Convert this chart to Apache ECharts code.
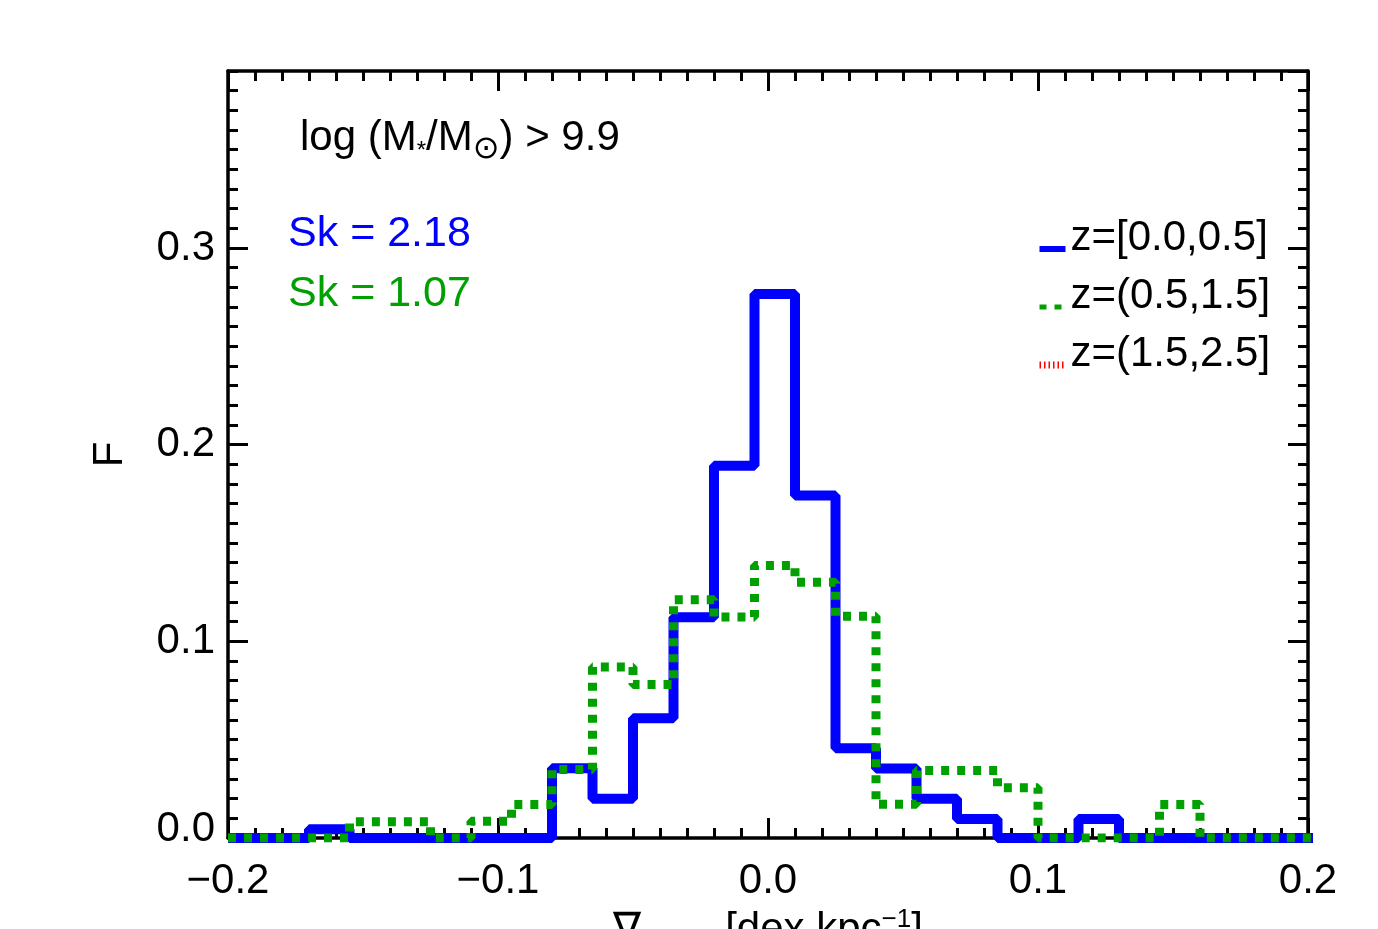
<!DOCTYPE html>
<html><head><meta charset="utf-8">
<script src="https://cdn.jsdelivr.net/npm/echarts@6/dist/echarts.min.js"></script>
<style>html,body{margin:0;padding:0;background:#fff}#c{width:1378px;height:929px}</style>
</head><body><div id="c"></div>
<script>
// ---- data ----
const binLeftEdges = [-0.2,-0.185,-0.17,-0.155,-0.14,-0.125,-0.11,-0.095,-0.08,-0.065,-0.05,-0.035,-0.02,-0.005,0.01,0.025,0.04,0.055,0.07,0.085,0.1,0.115,0.13,0.145,0.16,0.175,0.19];
const lastRightEdge = 0.205;
const fLowZ  = [0,0,0.0045,0,0,0,0,0,0.0355,0.0199,0.0609,0.1122,0.1893,0.2766,0.1741,0.0456,0.0354,0.0199,0.0097,0,0,0.0097,0,0,0,0,0];
const fMidZ  = [0,0,0,0.0082,0.0082,0,0.0085,0.0170,0.0348,0.0869,0.0781,0.1212,0.1124,0.1386,0.1300,0.1127,0.0171,0.0343,0.0343,0.0255,0,0,0,0.0170,0,0,0];
const fHighZ = [];
const seriesNames = ['z=[0.0,0.5]','z=(0.5,1.5]','z=(1.5,2.5]'];
const xMajorTicks = [-0.2,-0.1,0.0,0.1,0.2];
const yMajorTicks = [0.0,0.1,0.2,0.3];
const skLow = 'Sk = 2.18';
const skMid = 'Sk = 1.07';

const FONT = '"Liberation Sans", Arial, Helvetica, sans-serif';
const BLUE = '#0000ff', GREEN = '#00a000', RED = '#ff0000';

function stepData(vals){
  if(!vals.length) return [];
  const d = binLeftEdges.map((e,i)=>[e, vals[i]]);
  d.push([lastRightEdge, vals[vals.length-1]]);
  return d;
}
const fmt = v => v.toFixed(1).replace('-', '\u2212');

const axisLineStyle = {color:'#000', width:3.5};
function xAx(pos, minor, extra){
  return Object.assign({
    type:'value', position:pos, min:-0.2, max:0.2, interval: minor?0.01:0.1,
    axisLine:{show:!minor, onZero:false, lineStyle:axisLineStyle},
    axisTick:{show:true, inside:true, length: minor?10:20, lineStyle:{color:'#000', width:3}},
    axisLabel:{show:false}, splitLine:{show:false}
  }, extra||{});
}
function yAx(pos, minor, extra){
  return Object.assign({
    type:'value', position:pos, min:0, max:0.39, interval: minor?0.01:0.1,
    axisLine:{show:!minor, onZero:false, lineStyle:axisLineStyle},
    axisTick:{show:true, inside:true, length: minor?10:20, lineStyle:{color:'#000', width:3}},
    axisLabel:{show:false}, splitLine:{show:false}
  }, extra||{});
}

const chart = echarts.init(document.getElementById('c'), null, {renderer:'canvas'});
chart.setOption({
  animation:false,
  backgroundColor:'#fff',
  textStyle:{fontFamily:FONT},
  grid:{left:228, right:70, top:71, bottom:91, containLabel:false, outerBoundsMode:'none'},
  xAxis:[
    xAx('bottom', false, {
      axisLabel:{show:true, color:'#000', fontSize:42, fontFamily:FONT, margin:22,
        formatter: v => xMajorTicks.some(t=>Math.abs(t-v)<1e-9) ? fmt(v) : ''},
      name:'{n|\u2207}{g| }{t|[dex kpc}{p|\u22121}{t|]}',
      nameLocation:'middle', nameGap:63,
      nameTextStyle:{color:'#000', fontFamily:FONT, rich:{
        n:{fontSize:42, lineHeight:48, fontFamily:FONT, color:'#000'},
        g:{fontSize:42, lineHeight:48, width:84},
        t:{fontSize:42, lineHeight:48, fontFamily:FONT, color:'#000'},
        p:{fontSize:26, lineHeight:20, verticalAlign:'top', fontFamily:FONT, color:'#000'}
      }}
    }),
    xAx('bottom', true),
    xAx('top', false),
    xAx('top', true)
  ],
  yAxis:[
    yAx('left', false, {
      axisLabel:{show:true, color:'#000', fontSize:42, fontFamily:FONT, margin:13, showMaxLabel:false,
        formatter: v => {
          if(!yMajorTicks.some(t=>Math.abs(t-v)<1e-9)) return '';
          return v===0 ? '{z|'+fmt(v)+'}' : fmt(v);
        },
        rich:{z:{fontSize:42, fontFamily:FONT, color:'#000', padding:[0,0,18,0]}}
      },
      name:'F', nameLocation:'middle', nameGap:97,
      nameTextStyle:{color:'#000', fontSize:42, fontFamily:FONT}
    }),
    yAx('left', true),
    yAx('right', false),
    yAx('right', true)
  ],
  legend:{
    orient:'vertical', left:1036, top:217, padding:0, itemWidth:26, itemHeight:10, itemGap:-6,
    selectedMode:false,
    data:[
      {name:seriesNames[0], lineStyle:{width:6, color:BLUE, type:'solid'}, itemStyle:{opacity:0, borderWidth:0}},
      {name:seriesNames[1], lineStyle:{width:5, color:GREEN, type:[7,8]}, itemStyle:{opacity:0, borderWidth:0}},
      {name:seriesNames[2], lineStyle:{width:7, color:RED, type:[1.5,3]}, itemStyle:{opacity:0, borderWidth:0}}
    ],
    formatter: n => '{a|'+n+'}',
    textStyle:{rich:{a:{fontSize:42, lineHeight:36, padding:[0,0,22,0], fontFamily:FONT, color:'#000'}}}
  },
  series:[
    {name:seriesNames[0], type:'line', step:'end', symbol:'none', data:stepData(fLowZ),
     lineStyle:{color:BLUE, width:10}, itemStyle:{color:BLUE}, z:2},
    {name:seriesNames[1], type:'line', step:'end', symbol:'none', data:stepData(fMidZ),
     lineStyle:{color:GREEN, width:9, type:[8,8]}, itemStyle:{color:GREEN}, z:3},
    {name:seriesNames[2], type:'line', step:'end', symbol:'none', data:stepData(fHighZ),
     lineStyle:{color:RED, width:2, type:[1.5,3]}, itemStyle:{color:RED}, z:4}
  ],
  graphic:[
    {type:'text', x:300, y:138, style:{
      text:'{m|log (M}{s|*}{m|/M}{o|\u2299}{m|) > 9.9}',
      verticalAlign:'middle', align:'left',
      rich:{
        m:{fontSize:42, lineHeight:60, fontFamily:FONT, fill:'#000', color:'#000'},
        s:{fontSize:24, lineHeight:60, fontFamily:FONT, fill:'#000', color:'#000', padding:[26,0,0,0]},
        o:{fontSize:32, lineHeight:60, fontFamily:'"DejaVu Sans", sans-serif', fill:'#000', color:'#000', padding:[24,0,0,0]}
      }
    }},
    {type:'text', x:288, y:234, style:{text:skLow, fill:BLUE, font:'43px '+FONT, verticalAlign:'middle'}},
    {type:'text', x:288, y:294, style:{text:skMid, fill:GREEN, font:'43px '+FONT, verticalAlign:'middle'}}
  ]
});
</script>
</body></html>
